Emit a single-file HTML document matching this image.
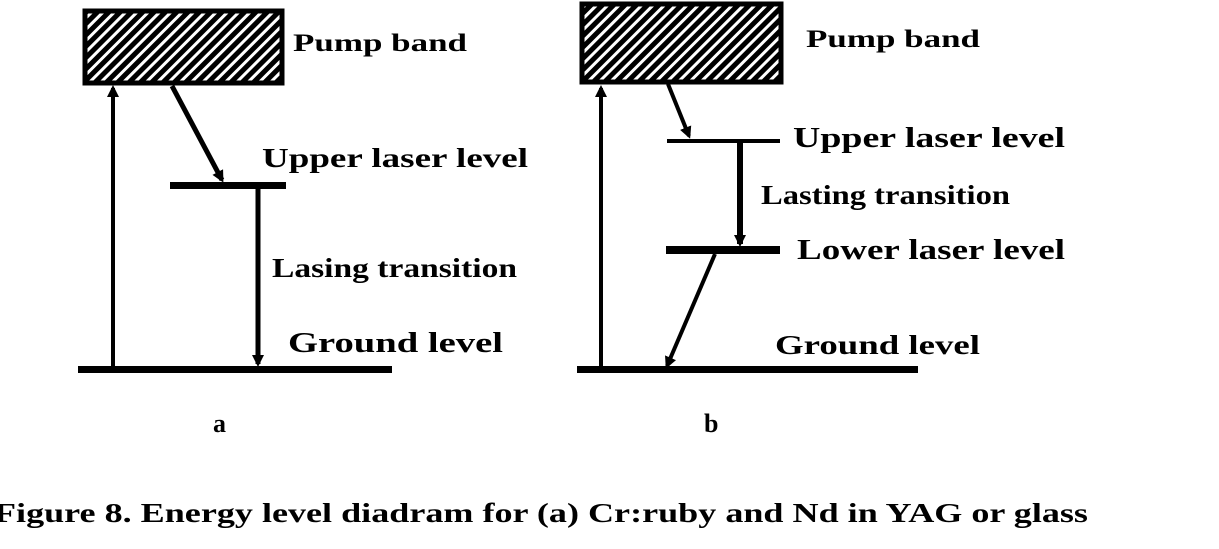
<!DOCTYPE html>
<html><head><style>body{margin:0;background:#fff}svg{display:block}text{font-family:"Liberation Serif",serif;fill:#000;font-weight:bold}</style></head><body>
<svg width="1219" height="549" viewBox="0 0 1219 549">
<defs>
<pattern id="h" width="8" height="8" patternUnits="userSpaceOnUse" patternTransform="rotate(45)">
<rect width="8" height="8" fill="#000"/><rect x="0" y="0" width="3" height="8" fill="#fff"/>
</pattern>
<marker id="ar" markerWidth="12" markerHeight="12" refX="9" refY="6" orient="auto" markerUnits="userSpaceOnUse" viewBox="0 0 12 12"><path d="M0,0 L12,6 L0,12 Z" fill="#000"/></marker>
</defs>
<!-- a -->
<rect x="85" y="11" width="197" height="72" fill="url(#h)" stroke="#000" stroke-width="5"/>
<line x1="113" y1="368" x2="113" y2="88" stroke="#000" stroke-width="4" marker-end="url(#ar)"/>
<line x1="172" y1="86" x2="222" y2="180" stroke="#000" stroke-width="5" marker-end="url(#ar)"/>
<rect x="170" y="182" width="116" height="7" fill="#000"/>
<line x1="258" y1="189" x2="258" y2="364" stroke="#000" stroke-width="5" marker-end="url(#ar)"/>
<rect x="78" y="366" width="314" height="7" fill="#000"/>
<text x="293" y="51" font-size="25" textLength="174" lengthAdjust="spacingAndGlyphs">Pump band</text>
<text x="262" y="167" font-size="27" textLength="266" lengthAdjust="spacingAndGlyphs">Upper laser level</text>
<text x="272" y="277" font-size="27" textLength="245" lengthAdjust="spacingAndGlyphs">Lasing transition</text>
<text x="288" y="352" font-size="29" textLength="215" lengthAdjust="spacingAndGlyphs">Ground level</text>
<text x="213" y="432" font-size="26">a</text>
<!-- b -->
<rect x="582" y="4" width="199" height="78" fill="url(#h)" stroke="#000" stroke-width="5"/>
<line x1="601" y1="368" x2="601" y2="88" stroke="#000" stroke-width="4" marker-end="url(#ar)"/>
<line x1="668" y1="84" x2="689" y2="136" stroke="#000" stroke-width="4" marker-end="url(#ar)"/>
<rect x="667" y="139" width="113" height="4" fill="#000"/>
<line x1="740" y1="143" x2="740" y2="244" stroke="#000" stroke-width="6" marker-end="url(#ar)"/>
<rect x="666" y="246" width="114" height="8" fill="#000"/>
<line x1="715" y1="254" x2="667" y2="366" stroke="#000" stroke-width="4" marker-end="url(#ar)"/>
<rect x="577" y="366" width="341" height="7" fill="#000"/>
<text x="806" y="47" font-size="25" textLength="174" lengthAdjust="spacingAndGlyphs">Pump band</text>
<text x="793" y="147" font-size="29" textLength="272" lengthAdjust="spacingAndGlyphs">Upper laser level</text>
<text x="761" y="204" font-size="27" textLength="249" lengthAdjust="spacingAndGlyphs">Lasting transition</text>
<text x="797" y="259" font-size="29" textLength="268" lengthAdjust="spacingAndGlyphs">Lower laser level</text>
<text x="775" y="354" font-size="27" textLength="205" lengthAdjust="spacingAndGlyphs">Ground level</text>
<text x="704" y="432" font-size="26">b</text>
<text x="-6" y="522" font-size="27" textLength="1094" lengthAdjust="spacingAndGlyphs">Figure 8. Energy level diadram for (a) Cr:ruby  and  Nd in YAG or glass</text>
</svg>
</body></html>
